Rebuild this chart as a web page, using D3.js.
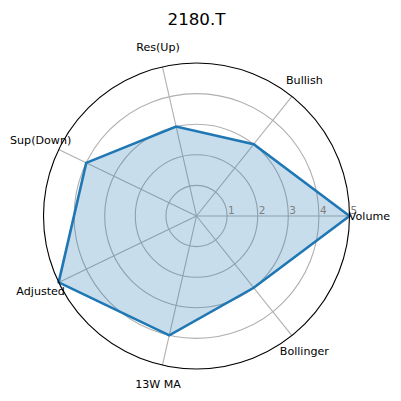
<!DOCTYPE html>
<html><head><meta charset="utf-8">
<script src="https://cdn.jsdelivr.net/npm/d3@7"></script>
<style>body{margin:0;background:#fff}svg{display:block}</style>
</head><body>
<script>
const title = "2180.T";
const categories = ["Volume","Bullish","Res(Up)","Sup(Down)","Adjusted","13W MA","Bollinger"];
const values = [5,3,3,4,5,4,3];
const rTicks = [1,2,3,4,5];

const W=401,H=401, cx=196.5, cy=216, R=153;
const svg=d3.select("body").append("svg").attr("width",W).attr("height",H);
svg.append("rect").attr("width",W).attr("height",H).attr("fill","#fff");
const g=svg.append("g").attr("transform",`translate(${cx},${cy})`);
const r=d3.scaleLinear().domain([0,5]).range([0,R]);
const ang=d3.scaleLinear().domain([0,categories.length]).range([0,2*Math.PI]);
const px=(i,v)=>r(v)*Math.cos(ang(i));
const py=(i,v)=>-r(v)*Math.sin(ang(i));
const font="DejaVu Sans, sans-serif";

// grid circles
g.selectAll("circle.grid").data(rTicks.slice(0,-1)).enter().append("circle")
 .attr("r",d=>r(d)).attr("fill","none").attr("stroke","#b0b0b0").attr("stroke-width",1.1);
// radial lines
g.selectAll("line.spoke").data(categories).enter().append("line")
 .attr("x1",0).attr("y1",0).attr("x2",(d,i)=>px(i,5)).attr("y2",(d,i)=>py(i,5))
 .attr("stroke","#b0b0b0").attr("stroke-width",1.1);

// data polygon
const pts=values.map((v,i)=>[px(i,v),py(i,v)]);
const line=d3.line().curve(d3.curveLinearClosed);
g.append("path").attr("d",line(pts)).attr("fill","#1f77b4").attr("fill-opacity",0.25).attr("stroke","none");
g.append("path").attr("d",line(pts)).attr("fill","none").attr("stroke","#1f77b4").attr("stroke-width",2.6).attr("stroke-linejoin","miter");

// outer circle
g.append("circle").attr("r",r(5)).attr("fill","none").attr("stroke","#000").attr("stroke-width",1.1);

// r tick labels
g.selectAll("text.rt").data(rTicks).enter().append("text")
 .attr("x",d=>r(d)+1).attr("y",-2).text(d=>d)
 .attr("font-family",font).attr("font-size",10.5).attr("fill","#808080");

// category labels
g.selectAll("text.cat").data(categories).enter().append("text")
 .attr("x",(d,i)=>(R+20)*Math.cos(ang(i))).attr("y",(d,i)=>-(R+20)*Math.sin(ang(i)))
 .attr("text-anchor","middle").attr("dominant-baseline","central")
 .attr("font-family",font).attr("font-size",11.1).attr("fill","#000").text(d=>d);

svg.append("text").attr("x",196.5).attr("y",25).attr("text-anchor","middle")
 .attr("font-family",font).attr("font-size",16.7).text(title);
</script>
</body></html>
